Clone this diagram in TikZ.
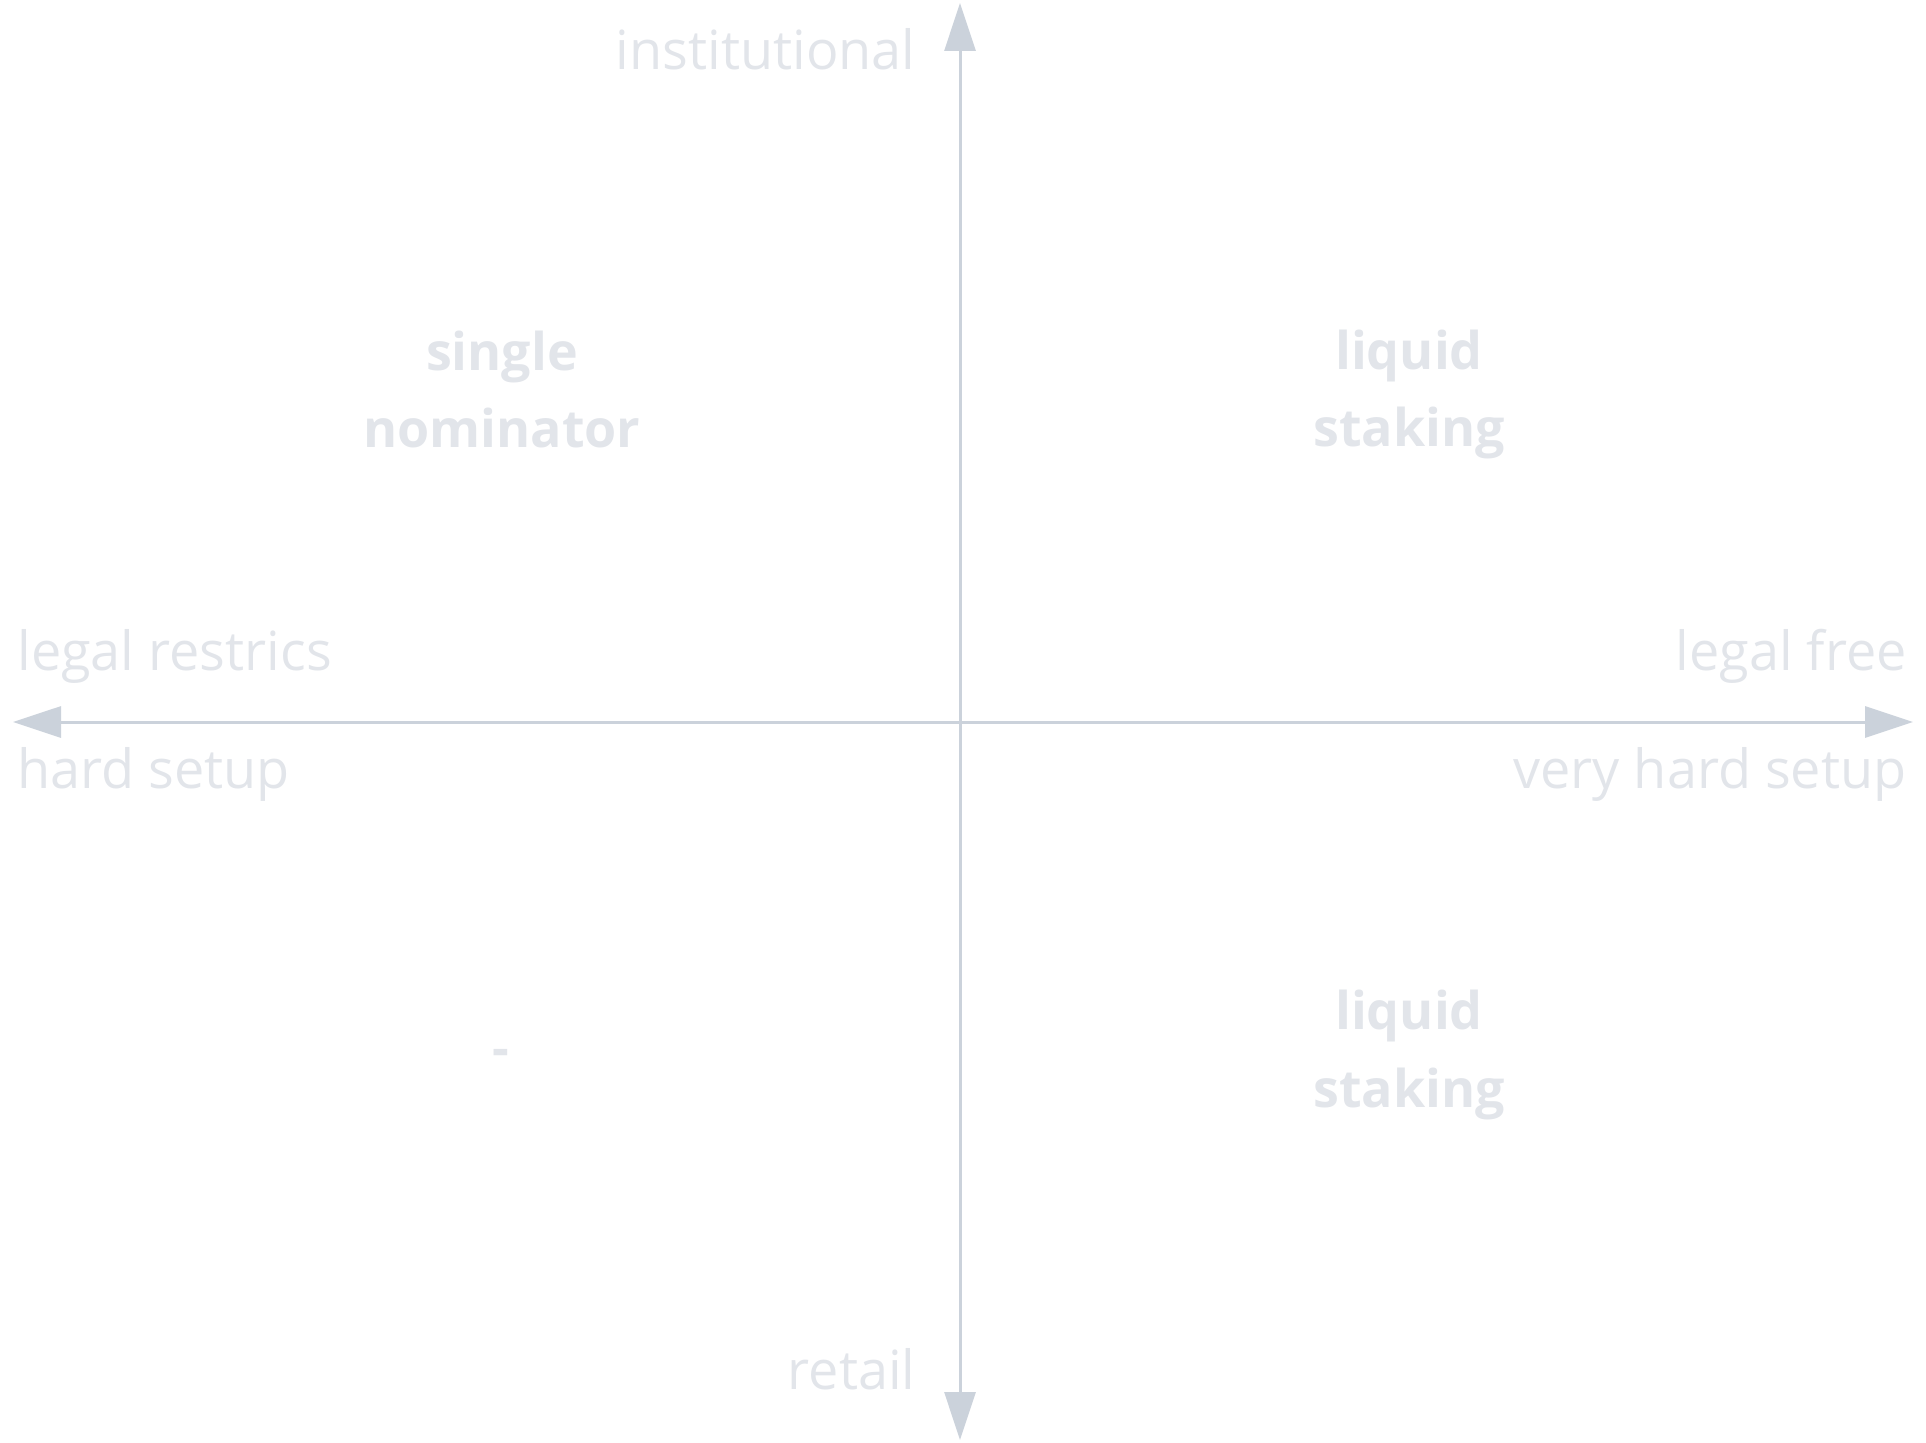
\documentclass[tikz,border=0pt]{standalone}
\usepackage{fontspec}
\setmainfont{Open Sans}
\usetikzlibrary{arrows.meta}
\definecolor{axisgray}{RGB}{203,210,219}
\definecolor{labelgray}{RGB}{226,229,234}
\begin{document}
\begin{tikzpicture}[x=0.5pt, y=-0.5pt,
  axis/.style={draw=axisgray, line width=1.5pt, {Triangle[length=24pt,width=15.5pt]}-{Triangle[length=24pt,width=15.5pt]}},
  side/.style={text=labelgray, inner sep=0pt, font=\fontsize{27}{32}\selectfont},
  quad/.style={text=labelgray, inner sep=0pt, align=center, anchor=base, font=\fontsize{26}{38.7}\selectfont\bfseries}]
\useasboundingbox (0,0) rectangle (1926,1443);
% axes
\coordinate (west) at (13,722);
\coordinate (east) at (1913,722);
\coordinate (north) at (960,3);
\coordinate (south) at (960,1440);
\draw[axis] (west) -- (east);
\draw[axis] (south) -- (north);
% axis ends
\node[side, anchor=base east] (inst) at (916,70) {institutional};
\node[side, anchor=base east] (retail) at (916,1389) {retail};
\node[side, anchor=base west] (restr) at (17,670) {legal restrics};
\node[side, anchor=base west] (hard) at (17,788) {hard setup};
\node[side, anchor=base east] (free) at (1907,670) {legal free};
\node[side, anchor=base east] (vhard) at (1907,788) {very hard setup};
% quadrants (base = last line)
\node[quad] (single) at (502,448) {single\\nominator};
\node[quad] (liqup) at (1409,447) {liquid\\staking};
\node[quad] (liqlow) at (1409,1107) {liquid\\staking};
\node[quad] (none) at (501,1066) {-};
\end{tikzpicture}
\end{document}
